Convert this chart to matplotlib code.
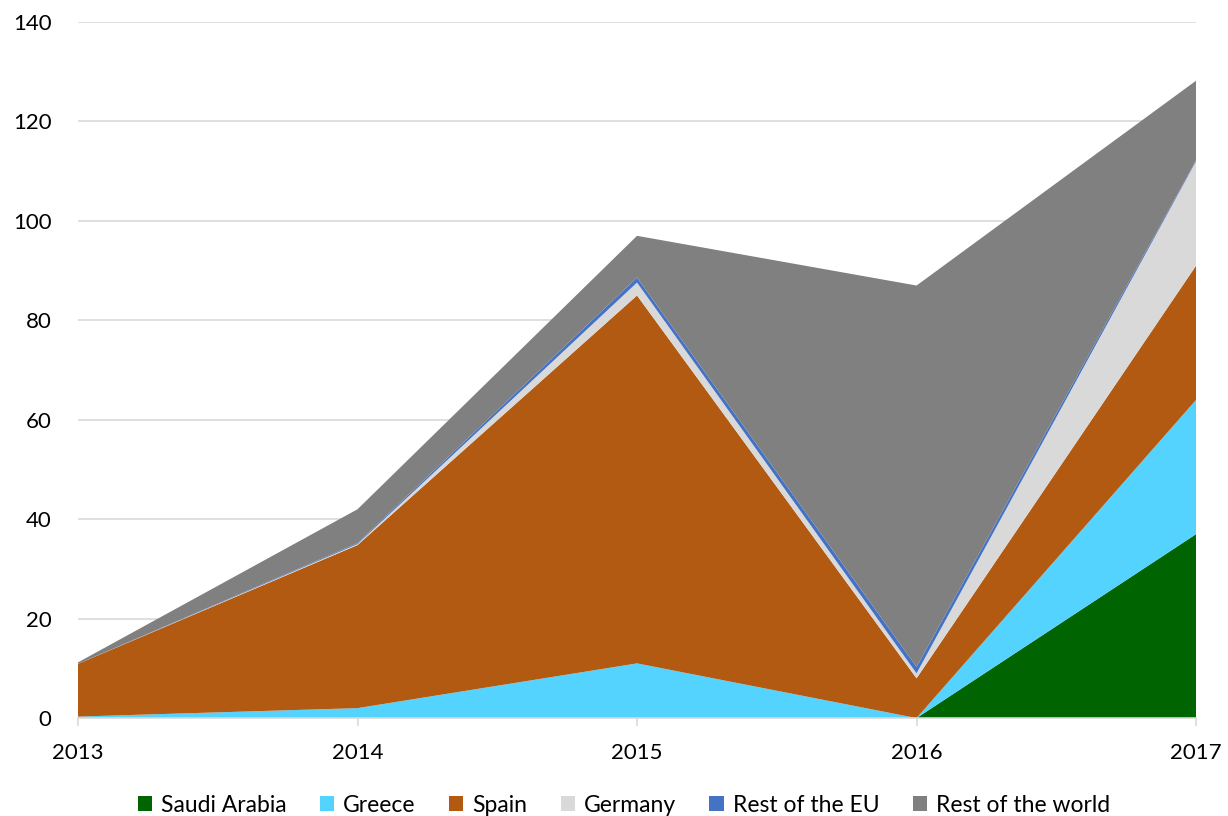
import matplotlib
matplotlib.use("Agg")
import matplotlib.pyplot as plt
from matplotlib.patches import Patch
import numpy as np

plt.rcParams['font.family'] = ['Lato', 'DejaVu Sans']

years = [2013, 2014, 2015, 2016, 2017]
saudi_arabia = [0.0, 0.0, 0.0, 0.0, 37.0]
greece = [0.3, 2.0, 11.0, 0.0, 27.0]
spain = [10.6, 32.8, 74.0, 8.0, 27.0]
germany = [0.0, 0.2, 2.6, 1.0, 21.0]
rest_of_eu = [0.0, 0.2, 1.0, 1.3, 0.2]
rest_of_world = [0.3, 6.8, 8.4, 76.7, 16.0]

series = [
    ("Saudi Arabia", saudi_arabia, "#006400"),
    ("Greece", greece, "#55D3FF"),
    ("Spain", spain, "#B35A12"),
    ("Germany", germany, "#D9D9D9"),
    ("Rest of the EU", rest_of_eu, "#4472C4"),
    ("Rest of the world", rest_of_world, "#808080"),
]

fig = plt.figure(figsize=(12.28, 8.16), dpi=100)
ax = fig.add_axes([0.0635, 0.120, 0.9105, 0.853])

ax.stackplot(years, *[s[1] for s in series], colors=[s[2] for s in series],
             linewidth=0, zorder=3)

ax.set_xlim(2013, 2017)
ax.set_ylim(0, 140)
ax.set_yticks(np.arange(0, 141, 20))
ax.set_xticks(years)
ax.yaxis.grid(True, color="#D9D9D9", linewidth=1.2, zorder=0)
ax.set_axisbelow(True)

for side in ("left", "right", "top"):
    ax.spines[side].set_visible(False)
ax.spines["bottom"].set_color("#D9D9D9")
ax.spines["bottom"].set_linewidth(1.2)
ax.spines["bottom"].set_zorder(4)

ax.tick_params(axis="y", length=0, labelsize=16, pad=19, colors="black")
ax.tick_params(axis="x", length=6, width=1.2, color="#D9D9D9", labelsize=16,
               pad=12, labelcolor="black")

handles = [Patch(facecolor=c, edgecolor="none", label=n) for n, _, c in series]
fig.legend(handles=handles, loc="center", bbox_to_anchor=(0.508, 0.013), ncol=6,
           frameon=False, fontsize=16.5, handlelength=0.62, handleheight=0.62,
           handletextpad=0.4, columnspacing=1.45)

fig.savefig("out.png", dpi=100)
